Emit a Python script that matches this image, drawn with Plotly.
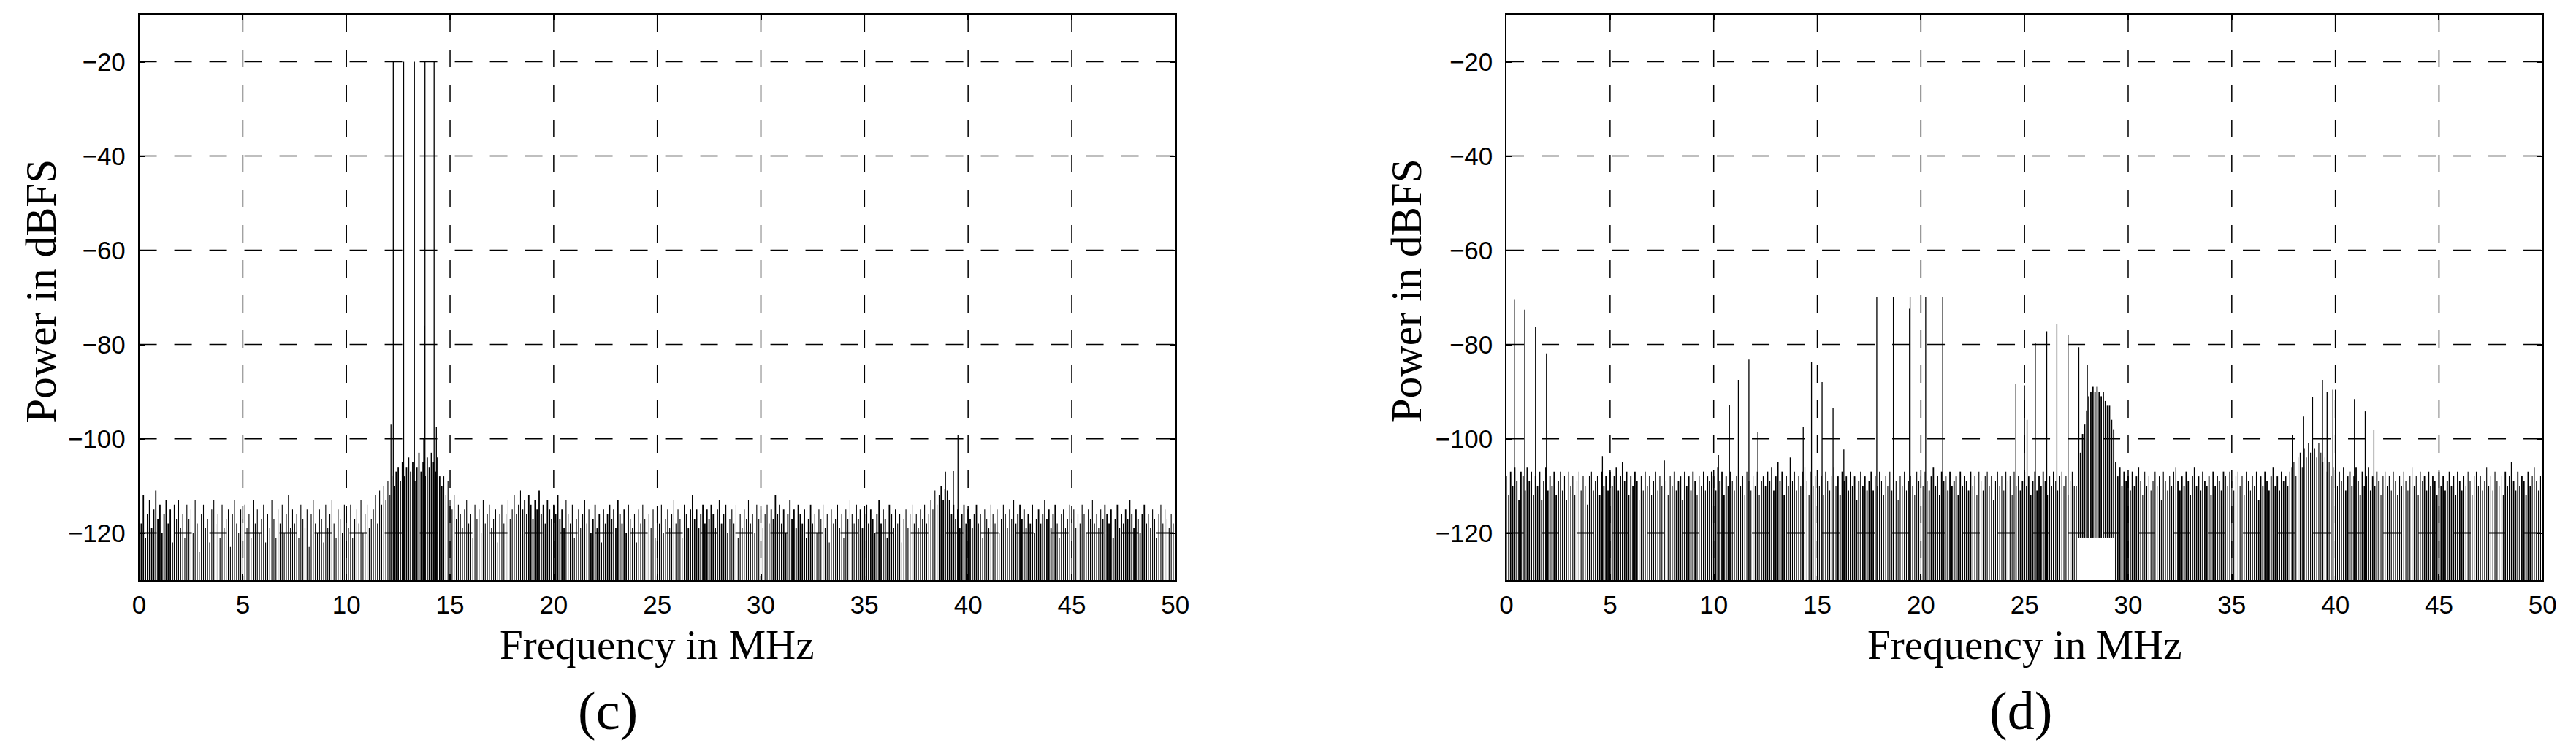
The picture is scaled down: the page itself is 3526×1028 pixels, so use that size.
import numpy as np
import plotly.graph_objects as go

# frequency grid of the noise floor bins (MHz)
freq_bins = np.round(np.arange(0, 50.05, 0.1), 1)

# (c) noise floor peak level per 0.1 MHz bin, dBFS
noise_c = [
    -114, -118, -112, -121, -116, -113, -119, -115, -111, -117, -114, -120, -116, -113, -118, -115, -122, -114, -117, -113, -119, -116, -121, -114, -117,
    -115, -120, -113, -118, -124, -116, -114, -119, -117, -122, -115, -113, -118, -116, -121, -114, -119, -117, -115, -123, -116, -113, -118, -120, -115,
    -117, -114, -119, -116, -121, -113, -118, -115, -120, -117, -114, -122, -116, -119, -113, -117, -121, -115, -118, -114, -120, -116, -112, -119, -115,
    -118, -116, -121, -114, -117, -119, -115, -123, -116, -113, -118, -120, -115, -117, -122, -114, -119, -116, -113, -118, -121, -115, -117, -120, -114,
    -116, -119, -114, -121, -117, -115, -118, -113, -120, -116, -114, -119, -117, -115, -112, -118, -111, -114, -110, -113, -109, -112, -108, -110, -107,
    -106, -109, -105, -108, -106, -104, -107, -105, -109, -106, -103, -107, -105, -108, -104, -106, -103, -105, -107, -104, -108, -110, -108, -112, -109,
    -113, -115, -112, -117, -114, -116, -119, -115, -113, -118, -116, -121, -114, -117, -115, -120, -113, -118, -116, -114, -119, -117, -115, -122, -116,
    -114, -118, -116, -113, -117, -115, -112, -116, -114, -111, -115, -113, -116, -112, -114, -117, -113, -115, -111, -116, -114, -118, -113, -115, -117,
    -114, -116, -112, -117, -115, -119, -113, -116, -118, -114, -121, -117, -115, -119, -116, -113, -118, -115, -120, -117, -114, -119, -116, -122, -115,
    -118, -116, -114, -117, -115, -119, -113, -116, -118, -115, -120, -114, -117, -119, -116, -122, -115, -118, -114, -117, -120, -116, -119, -115, -121,
    -116, -118, -114, -120, -117, -115, -119, -116, -113, -118, -115, -117, -121, -114, -116, -119, -115, -112, -117, -115, -119, -116, -114, -118, -115,
    -117, -114, -116, -119, -115, -113, -118, -116, -114, -120, -117, -115, -118, -114, -121, -116, -119, -115, -117, -113, -118, -116, -120, -114, -117,
    -115, -119, -116, -114, -118, -115, -117, -112, -116, -114, -118, -115, -120, -116, -113, -117, -115, -119, -114, -116, -118, -115, -121, -117, -114,
    -118, -116, -120, -115, -117, -114, -119, -116, -122, -115, -118, -117, -114, -119, -116, -121, -115, -117, -113, -116, -118, -114, -117, -115, -119,
    -116, -114, -118, -115, -117, -120, -116, -113, -118, -115, -117, -121, -114, -116, -119, -115, -118, -116, -122, -117, -115, -119, -116, -114, -118,
    -116, -119, -115, -117, -114, -118, -116, -113, -115, -111, -114, -112, -110, -113, -107, -111, -113, -116, -114, -117, -115, -119, -116, -114, -118,
    -115, -117, -119, -116, -114, -118, -116, -121, -115, -117, -119, -114, -116, -118, -115, -120, -117, -114, -116, -119, -115, -117, -113, -118, -116,
    -114, -117, -115, -119, -116, -118, -114, -120, -117, -115, -118, -116, -113, -117, -115, -119, -116, -114, -118, -121, -116, -115, -119, -117, -114,
    -117, -115, -119, -116, -118, -114, -116, -120, -115, -117, -113, -118, -116, -119, -115, -117, -114, -116, -118, -115, -121, -117, -114, -119, -116,
    -118, -115, -117, -113, -116, -119, -115, -117, -120, -116, -114, -118, -116, -119, -115, -117, -121, -116, -114, -118, -115, -117, -119, -116, -118,
    -117,
]

# (d) noise floor peak level per 0.1 MHz bin, dBFS
noise_d = [
    -108, -112, -107, -110, -106, -109, -113, -107, -108, -111, -106, -109, -107, -112, -108, -110, -107, -113, -109, -106, -111, -108, -110, -107, -112,
    -109, -107, -111, -108, -113, -107, -110, -108, -112, -109, -107, -111, -108, -110, -114, -108, -107, -111, -109, -108, -112, -107, -110, -108, -111,
    -107, -110, -108, -106, -111, -108, -105, -109, -107, -112, -108, -110, -107, -109, -113, -108, -111, -107, -110, -108, -112, -109, -107, -111, -108,
    -110, -107, -109, -112, -108, -110, -107, -111, -109, -108, -113, -107, -110, -108, -111, -107, -109, -112, -108, -110, -107, -111, -108, -109, -107,
    -108, -111, -106, -109, -107, -112, -108, -110, -107, -109, -111, -108, -107, -110, -108, -112, -107, -109, -111, -108, -110, -107, -112, -109, -108,
    -110, -107, -109, -106, -111, -108, -105, -109, -107, -112, -108, -110, -104, -109, -107, -111, -108, -110, -107, -106, -109, -112, -107, -110, -108,
    -107, -110, -108, -112, -107, -109, -111, -108, -106, -110, -108, -112, -107, -109, -108, -111, -107, -110, -108, -113, -109, -107, -110, -108, -111,
    -109, -107, -111, -108, -110, -107, -109, -112, -108, -110, -107, -111, -108, -109, -113, -108, -110, -107, -111, -109, -108, -110, -112, -107, -109,
    -108, -110, -107, -109, -111, -108, -106, -110, -108, -112, -107, -109, -108, -111, -107, -110, -109, -108, -112, -107, -110, -108, -109, -111, -107,
    -110, -108, -112, -107, -109, -111, -108, -107, -110, -108, -113, -109, -107, -110, -108, -111, -107, -109, -108, -112, -107, -110, -108, -111, -109,
    -107, -110, -108, -112, -109, -107, -111, -108, -110, -107, -109, -112, -108, -110, -107, -109, -111, -108, -107, -110, -108, -112, -109, -107, -110,
    -110, -105, -103, -99, -97, -94, -91, -90, -89, -90, -89, -90, -91, -90, -92, -93, -93, -96, -98, -105, -108, -106, -110, -107, -109,
    -108, -111, -107, -110, -108, -106, -109, -112, -107, -110, -108, -111, -109, -107, -110, -108, -113, -107, -109, -111, -108, -110, -107, -106, -109,
    -111, -108, -110, -107, -109, -112, -108, -106, -110, -108, -111, -107, -109, -110, -108, -112, -107, -110, -108, -109, -111, -107, -108, -110, -107,
    -109, -111, -108, -107, -110, -108, -112, -107, -109, -111, -108, -110, -107, -113, -108, -110, -107, -109, -111, -108, -106, -110, -108, -111, -107,
    -109, -108, -110, -107, -106, -105, -108, -104, -103, -106, -102, -104, -101, -103, -100, -102, -104, -101, -103, -105, -104, -107, -105, -108, -106,
    -108, -110, -107, -109, -106, -111, -108, -107, -110, -108, -106, -109, -112, -107, -110, -108, -106, -111, -108, -110, -107, -109, -112, -108, -107,
    -110, -108, -111, -107, -109, -112, -108, -110, -107, -109, -111, -108, -106, -110, -108, -112, -107, -109, -108, -111, -107, -110, -108, -109, -112,
    -107, -110, -108, -111, -109, -107, -110, -108, -112, -107, -109, -111, -108, -110, -107, -109, -112, -108, -107, -110, -108, -111, -109, -106, -110,
    -108, -111, -107, -109, -110, -108, -112, -107, -110, -108, -105, -109, -111, -107, -110, -108, -109, -112, -107, -110, -108, -106, -109, -111, -108,
    -109,
]

# frequency bands (MHz) where the noise strokes render dense / dark
bands_c = [(0.1, 1.7), (12.4, 14.6), (18.5, 20.5), (21.8, 23.6), (26.5, 28.4), (30.5, 32.4),
           (34.6, 36.5), (38.7, 40.4), (42.3, 44.2), (46.5, 48.6)]
bands_d = [(0.2, 2.5), (4.3, 6.3), (8.1, 9.1), (9.7, 10.7), (12.3, 13.7), (16.0, 17.7),
           (20.4, 22.4), (24.8, 26.4), (27.6, 30.5), (32.4, 34.6), (36.1, 37.7), (40.4, 42.1),
           (44.3, 46.1), (48.2, 49.4)]

# region of (d) where the spectrum never drops below this level (the signal hump)
notch_d = (27.6, 29.3, -121)

# discrete tones and spurs
spur_c_f = [12.15, 12.26, 12.76, 13.28, 13.73, 13.77, 13.79, 14.23, 14.34, 38.88, 39.29, 39.51]
spur_c_p = [-97, -20, -20, -20, -100, -76, -20, -20, -97.6, -110.7, -106.9, -99.2]

spur_d_f = [0.38, 0.88, 1.40, 1.93, 4.63, 7.62, 10.23, 10.76, 11.19, 11.70, 12.13,
            14.32, 14.72, 15.23, 15.76, 16.28, 17.87, 18.67, 19.45, 19.48, 20.23, 21.05,
            24.58, 25.0, 25.12, 25.52, 26.07, 26.56, 27.10, 27.62, 28.03,
            37.92, 38.47, 38.90, 39.38, 39.60, 39.88, 40.00, 40.92, 41.44, 41.86]
spur_d_p = [-70.4, -72.6, -76.3, -81.9, -103.7, -104.6, -103.5, -92.9, -87.5, -83.2, -98.7,
            -97.6, -83.8, -88.0, -93.4, -102.3, -69.9, -69.9, -72.4, -70.0, -69.9, -69.9,
            -88.4, -88.7, -96.0, -79.6, -77.2, -75.6, -77.9, -80.6, -84.3,
            -99.2, -95.3, -91.1, -87.5, -90.1, -89.6, -89.6, -91.6, -94.2, -98.1]

x_ticks = list(range(0, 51, 5))
y_ticks = [-120, -100, -80, -60, -40, -20]

FLOOR = -132
W, H = 3526, 1028
GRID_DASH = '24px,24px'


def in_bands(f, bands):
    return any(a <= f <= b for a, b in bands)


def base_for(f, notch):
    if notch and notch[0] <= f <= notch[1]:
        return notch[2]
    return FLOOR


def strokes(freqs, tops, notch=None):
    xs, ys = [], []
    for f, t in zip(freqs, tops):
        xs += [f, f, None]
        ys += [base_for(f, notch), t, None]
    return xs, ys


def add_panel(fig, noise, bands, spur_f, spur_p, notch, xa, ya):
    thin = [(f, v) for f, v in zip(freq_bins, noise) if not in_bands(f, bands)]
    thick = [(f, v) for f, v in zip(freq_bins, noise) if in_bands(f, bands)]
    for pts, w in ((thin, 1.1), (thick, 1.8)):
        xs, ys = strokes([p[0] for p in pts], [p[1] for p in pts], notch)
        fig.add_trace(go.Scatter(x=xs, y=ys, mode='lines', xaxis=xa, yaxis=ya,
                                 line=dict(color='black', width=w),
                                 hoverinfo='skip', showlegend=False))
    xs, ys = strokes(spur_f, spur_p, notch)
    fig.add_trace(go.Scatter(x=xs, y=ys, mode='lines', xaxis=xa, yaxis=ya,
                             line=dict(color='black', width=1.3),
                             hoverinfo='skip', showlegend=False))

    # dashed grid drawn on top of the spectrum, like the original
    for v in y_ticks:
        w = 2.2 if v in (-100, -120) else 1.3
        fig.add_shape(type='line', xref=xa, yref=ya, x0=0, x1=50, y0=v, y1=v,
                      line=dict(color='black', width=w, dash=GRID_DASH), layer='above')
    for t in x_ticks[1:-1]:
        fig.add_shape(type='line', xref=xa, yref=ya, x0=t, x1=t, y0=-10, y1=-130,
                      line=dict(color='black', width=1.5, dash=GRID_DASH), layer='above')


fig = go.Figure()
add_panel(fig, noise_c, bands_c, spur_c_f, spur_c_p, None, 'x', 'y')
add_panel(fig, noise_d, bands_d, spur_d_f, spur_d_p, notch_d, 'x2', 'y2')

tick_font = dict(family='Liberation Sans, Arial, sans-serif', size=35, color='black')
serif = 'Liberation Serif, Times New Roman, serif'

y_dom = [1 - 786 / H, 1 - 12 / H]
axis_common = dict(showline=True, linecolor='black', linewidth=1.5, mirror='ticks',
                   ticks='inside', ticklen=8, tickwidth=1.5, tickcolor='black',
                   showgrid=False, zeroline=False, tickfont=tick_font, layer='above traces')

fig.update_layout(
    width=W, height=H,
    margin=dict(l=0, r=0, t=0, b=0),
    paper_bgcolor='white', plot_bgcolor='white',
    xaxis=dict(domain=[174 / W, 1604 / W], range=[0, 50], tickvals=x_ticks,
               anchor='y', ticklabelstandoff=2, **axis_common),
    yaxis=dict(domain=y_dom, range=[-130, -10], tickvals=y_ticks,
               anchor='x', ticklabelstandoff=10, **axis_common),
    xaxis2=dict(domain=[2061 / W, 3491 / W], range=[0, 50], tickvals=x_ticks,
                anchor='y2', ticklabelstandoff=2, **axis_common),
    yaxis2=dict(domain=y_dom, range=[-130, -10], tickvals=y_ticks,
                anchor='x2', ticklabelstandoff=10, **axis_common),
)

labels = [
    ('Power in dBFS', 38, 390, 59, -90),
    ('Power in dBFS', 1923, 390, 59, -90),
    ('Frequency in MHz', 889, 874, 57, 0),
    ('Frequency in MHz', 2776, 874, 57, 0),
    ('(c)', 821, 965, 74, 0),
    ('(d)', 2771, 965, 74, 0),
]
for text, px_x, px_y, size, angle in labels:
    fig.add_annotation(text=text, x=px_x / W, y=1 - px_y / H, xref='paper', yref='paper',
                       xanchor='center', yanchor='middle', showarrow=False, textangle=angle,
                       font=dict(family=serif, size=size, color='black'))

fig.write_html("out.html")
